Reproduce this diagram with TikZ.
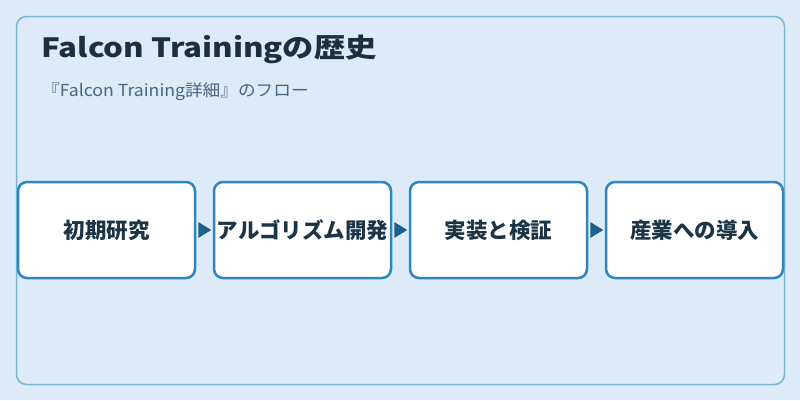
\documentclass[tikz,border=0pt]{standalone}
\usepackage{fontspec}
\setmainfont{Noto Sans CJK JP}
\usetikzlibrary{arrows.meta}
\definecolor{bgc}{HTML}{DCEBF7}
\definecolor{framec}{HTML}{7FB3D5}
\definecolor{boxc}{HTML}{2E86C1}
\definecolor{arrc}{HTML}{1F5F8B}
\definecolor{titlec}{HTML}{1B2F40}
\definecolor{subc}{HTML}{4A6580}
\definecolor{textc}{HTML}{1B3446}
\tikzset{
  stepbox/.style={draw=boxc, line width=2.5pt, fill=white, rounded corners=9pt,
    minimum width=177pt, minimum height=96pt, inner sep=0pt,
    font=\fontsize{21.5pt}{24pt}\selectfont\bfseries, text=textc},
}
\begin{document}
\begin{tikzpicture}[x=1pt,y=-1pt]
\useasboundingbox (0,0) rectangle (800,400);
\fill[bgc] (0,0) rectangle (800,400);
\draw[framec, line width=1.5pt, rounded corners=10pt] (16.5,16.5) rectangle (784.5,384.5);
\node[anchor=base west, text=titlec, font=\fontsize{26.5pt}{30pt}\selectfont\bfseries, inner sep=0pt] (title) at (41,57) {\scalebox{1.18}[1]{Falcon Trainingの歴史}};
\node[anchor=base west, text=subc, font=\fontsize{16.5pt}{19pt}\selectfont, inner sep=0pt] (sub) at (42,96) {\scalebox{1.07}[1]{『Falcon Training詳細』のフロー}};
\node[stepbox] (s1) at (106.5,230) {初期研究};
\node[stepbox] (s2) at (302.5,230) {アルゴリズム開発};
\node[stepbox] (s3) at (498.5,230) {実装と検証};
\node[stepbox] (s4) at (694.5,230) {産業への導入};
\foreach \a/\b in {s1/s2,s2/s3,s3/s4}{
  \fill[arrc] ([xshift=2pt]\a.east) ++(0,-8) -- ++(13,8) -- ++(-13,8) -- cycle;
}
\end{tikzpicture}
\end{document}
